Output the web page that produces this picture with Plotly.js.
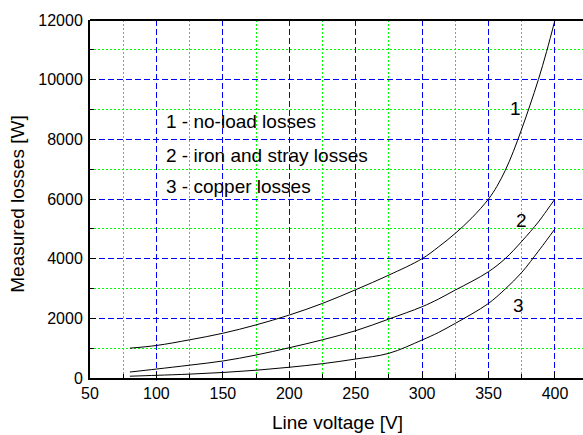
<!DOCTYPE html>
<html>
<head>
<meta charset="utf-8">
<script src="https://cdn.plot.ly/plotly-3.0.1.min.js"></script>
<style>html,body{margin:0;padding:0;background:#fff;}#chart{width:583px;height:435px;}</style>
</head>
<body>
<div id="chart"></div>
<script>
// Line voltage [V] for curve 1
const voltage1 = [80, 100, 125, 150, 175, 200, 225, 250, 275, 300, 312.5, 325, 337.5, 350, 356.25, 362.5, 368.75, 375, 381.25, 387.5, 393.75, 400];
// 1 - no-load losses [W]
const noLoadLosses = [1000, 1090, 1280, 1500, 1780, 2110, 2500, 2960, 3450, 4000, 4400, 4850, 5370, 6000, 6420, 6950, 7600, 8350, 9150, 10000, 10950, 12000];
// Line voltage [V] for curves 2 and 3
const voltage = [80, 100, 125, 150, 175, 200, 225, 250, 275, 300, 312.5, 325, 337.5, 350, 362.5, 375, 387.5, 393.75, 400];
// 2 - iron and stray losses [W]
const ironStrayLosses = [200, 300, 430, 570, 770, 1015, 1280, 1586, 1977, 2390, 2650, 2950, 3240, 3563, 4000, 4580, 5230, 5610, 6000];
// 3 - copper losses [W]
const copperLosses = [60, 90, 130, 185, 260, 360, 480, 637, 828, 1274, 1530, 1833, 2150, 2500, 2980, 3540, 4250, 4620, 5000];

const curveLabels = ['1', '2', '3'];
const curveLabelX = [370, 374.5, 372.5];
const curveLabelY = [9017, 5296, 2447];

const legendTexts = ['1 - no-load losses', '2 - iron and stray losses', '3 - copper losses'];
const legendX = [106, 106, 106];
const legendY = [8592, 7475, 6413];

const xTitle = 'Line voltage [V]';
const yTitle = 'Measured losses [W]';

const FONT = 'Arial, "Liberation Sans", sans-serif';
const xs = [voltage1, voltage, voltage];
const series = [noLoadLosses, ironStrayLosses, copperLosses];
const traces = series.map((s, i) => ({
  x: xs[i], y: s, type: 'scatter', mode: 'lines',
  line: {color: '#000000', width: 1, shape: 'spline', smoothing: 1},
  hoverinfo: 'skip', showlegend: false
}));

const annotations = [];
curveLabels.forEach((t, i) => annotations.push({
  x: curveLabelX[i], y: curveLabelY[i], xref: 'x', yref: 'y', text: t,
  showarrow: false, font: {family: FONT, size: 19, color: '#000'}
}));
legendTexts.forEach((t, i) => annotations.push({
  x: legendX[i], y: legendY[i], xref: 'x', yref: 'y', text: t,
  xanchor: 'left', yanchor: 'middle', showarrow: false,
  font: {family: FONT, size: 19, color: '#000'}
}));
// axis titles
annotations.push({x: 0.503, y: -0.125, xref: 'paper', yref: 'paper', text: xTitle,
  xanchor: 'center', yanchor: 'middle', showarrow: false,
  font: {family: FONT, size: 19, color: '#000'}});
annotations.push({x: -0.1487, y: 0.486, xref: 'paper', yref: 'paper', text: yTitle,
  textangle: -90, xanchor: 'center', yanchor: 'middle', showarrow: false,
  font: {family: FONT, size: 19, color: '#000'}});

const layout = {
  width: 583, height: 435,
  margin: {l: 90, r: 0, t: 20, b: 57},
  paper_bgcolor: '#ffffff', plot_bgcolor: '#ffffff',
  font: {family: FONT, color: '#000'},
  showlegend: false,
  xaxis: {
    range: [50, 421.1], tick0: 50, dtick: 50, tickformat: 'd',
    showline: true, linecolor: '#000', linewidth: 2,
    ticks: 'inside', ticklen: 6, tickcolor: '#000', tickwidth: 1,
    tickfont: {family: FONT, size: 16, color: '#000'},
    showgrid: true, gridcolor: '#0000ff', gridwidth: 1, griddash: '6px,3px',
    zeroline: false,
    minor: {dtick: 25, ticks: 'inside', ticklen: 4, tickcolor: '#000',
            showgrid: true, gridcolor: '#00ff00', gridwidth: 1, griddash: '2px,2px'}
  },
  yaxis: {
    range: [0, 12000], tick0: 0, dtick: 2000, tickformat: 'd',
    showline: true, linecolor: '#000', linewidth: 2,
    ticks: 'inside', ticklen: 6, tickcolor: '#000', tickwidth: 1,
    tickfont: {family: FONT, size: 16, color: '#000'}, ticklabelstandoff: 2,
    showgrid: true, gridcolor: '#0000ff', gridwidth: 1, griddash: '6px,3px',
    zeroline: false,
    minor: {dtick: 1000, ticks: 'inside', ticklen: 4, tickcolor: '#000',
            showgrid: true, gridcolor: '#00ff00', gridwidth: 1, griddash: '2px,2px'}
  },
  shapes: [{type: 'line', xref: 'paper', yref: 'paper', x0: 0, x1: 1, y0: 1, y1: 1,
            line: {color: '#000', width: 2}}],
  annotations: annotations
};

Plotly.newPlot('chart', traces, layout, {displayModeBar: false, staticPlot: true});
</script>
</body>
</html>
